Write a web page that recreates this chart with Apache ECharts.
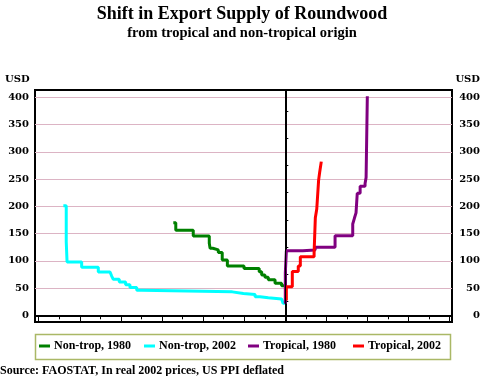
<!DOCTYPE html>
<html>
<head>
<meta charset="utf-8">
<script src="https://cdn.jsdelivr.net/npm/echarts@6/dist/echarts.min.js"></script>
<style>
html, body { margin: 0; padding: 0; background: #fff; }
#chart { width: 495px; height: 376px; }
</style>
</head>
<body>
<div id="chart"></div>
<script>
// supply curves: [cumulative quantity, price USD], non-tropical drawn to the left of 0
var nonTrop1980 = [[-5.45, 170], [-5.33, 156], [-4.48, 145.5], [-3.70, 132], [-3.66, 123], [-3.53, 120],
  [-3.26, 115], [-3.07, 101.5], [-2.82, 90.5], [-2.01, 86], [-1.27, 80], [-1.15, 74], [-0.99, 70],
  [-0.83, 65], [-0.50, 59], [-0.18, 54], [-0.04, 54]];
var nonTrop2002 = [[-10.80, 201], [-10.66, 135], [-10.62, 98], [-9.91, 88], [-9.10, 79.5], [-8.53, 76],
  [-8.45, 72], [-8.37, 66], [-8.08, 61], [-7.77, 56], [-7.56, 51], [-7.23, 46], [-6.99, 43],
  [-2.58, 40], [-2.04, 38], [-1.47, 34], [-1.23, 32], [-0.83, 30], [-0.18, 28], [-0.11, 22], [0, 22]];
var tropical1980 = [[0, 21], [0, 78], [0.05, 118.5], [0.85, 120], [1.45, 125], [2.42, 146], [3.28, 167.5],
  [3.36, 178], [3.44, 188], [3.50, 224], [3.64, 237], [3.88, 242], [3.93, 253], [3.99, 402]];
var tropical2002 = [[0.05, 27], [0.05, 52.5], [0.34, 80.5], [0.63, 90.5], [0.73, 107.5], [1.40, 115],
  [1.46, 179], [1.53, 195], [1.62, 248], [1.67, 262], [1.75, 282]];

var seriesNames = ['Non-trop, 1980', 'Non-trop, 2002', 'Tropical, 1980', 'Tropical, 2002'];
var seriesColors = ['#008000', '#00ffff', '#800080', '#ff0000'];
var yTicks = [0, 50, 100, 150, 200, 250, 300, 350, 400];
var yRightTicks = [25, 75, 125, 175, 225, 275, 325, 375];
var xMajorTicks = [-12, -10, -8, -6, -4, -2, 0, 2, 4, 6, 8];
var xMinorTicks = [-11, -9, -7, -5, -3, -1, 1, 3, 5, 7];

var labelFont = { fontFamily: 'DejaVu Serif', fontWeight: 'bold', fontSize: 10, color: '#000' };
var serif = 'bold {s}px "Liberation Serif"';

var chart = echarts.init(document.getElementById('chart'));

var seriesData = [nonTrop1980, nonTrop2002, tropical1980, tropical2002];
var series = seriesData.map(function (d, i) {
  return {
    name: seriesNames[i],
    type: 'line',
    step: 'end',
    data: d,
    showSymbol: false,
    color: seriesColors[i],
    lineStyle: { width: 3, color: seriesColors[i] },
    z: 3 + i
  };
});
series[0].markLine = {
  silent: true,
  symbol: 'none',
  label: { show: false },
  lineStyle: { color: '#000', width: 1, type: 'solid' },
  data: [{ xAxis: 0 }],
  z: 10
};

var legendLefts = [39, 144, 248, 353];
var legends = seriesNames.map(function (n, i) {
  return {
    data: [n],
    left: legendLefts[i],
    top: 340,
    icon: 'rect',
    itemWidth: 11,
    itemHeight: 3,
    itemGap: 0,
    padding: 0,
    selectedMode: false,
    textStyle: { fontFamily: 'Liberation Serif', fontWeight: 'bold', fontSize: 12, color: '#000', padding: [0, 0, 0, -1] }
  };
});

var option = {
  animation: false,
  grid: { left: 35, right: 43, top: 90, bottom: 54, show: true, borderColor: '#000', borderWidth: 2 },
  xAxis: [{
    type: 'value', min: -12.18, max: 8.11,
    axisLine: { lineStyle: { color: '#000', width: 2 } },
    axisTick: { customValues: xMajorTicks, length: 6, lineStyle: { color: '#000', width: 1 } },
    axisLabel: { show: false },
    splitLine: { show: false }
  }, {
    type: 'value', min: -12.18, max: 8.11, position: 'bottom',
    axisLine: { show: false },
    axisTick: { customValues: xMinorTicks, length: 4, lineStyle: { color: '#000', width: 1 } },
    axisLabel: { show: false },
    splitLine: { show: false }
  }],
  yAxis: [{
    type: 'value', min: -12.3, max: 413.4, position: 'left',
    axisLine: { show: true, lineStyle: { color: '#000', width: 2 } },
    axisTick: { show: false, customValues: yTicks },
    axisLabel: Object.assign({ customValues: yTicks, margin: 6 }, labelFont),
    splitLine: { show: true, lineStyle: { color: '#dcb4c4', width: 1 } }
  }, {
    type: 'value', min: -12.3, max: 413.4, position: 'right',
    axisLine: { show: true, lineStyle: { color: '#000', width: 2 } },
    axisTick: { show: true, customValues: yRightTicks, length: 3, lineStyle: { color: '#000', width: 1 } },
    axisLabel: Object.assign({ customValues: yTicks, margin: 28, align: 'right' }, labelFont),
    splitLine: { show: false }
  }],
  legend: legends,
  graphic: [
    { type: 'text', x: 242, y: 14.5, style: { text: 'Shift in Export Supply of Roundwood', font: serif.replace('{s}', 18), fill: '#000', textAlign: 'center', textVerticalAlign: 'middle' } },
    { type: 'text', x: 242, y: 33.5, style: { text: 'from tropical and non-tropical origin', font: serif.replace('{s}', 14.5), fill: '#000', textAlign: 'center', textVerticalAlign: 'middle' } },
    { type: 'text', x: 5, y: 79, style: { text: 'USD', font: 'bold 10px "DejaVu Serif"', fill: '#000', textVerticalAlign: 'middle' } },
    { type: 'text', x: 480, y: 79, style: { text: 'USD', font: 'bold 10px "DejaVu Serif"', fill: '#000', textAlign: 'right', textVerticalAlign: 'middle' } },
    { type: 'rect', shape: { x: 35.5, y: 334.5, width: 415, height: 25 }, style: { fill: 'none', stroke: '#aab866', lineWidth: 1.5 } },
    { type: 'text', x: 0, y: 371, style: { text: 'Source: FAOSTAT, In real 2002 prices, US PPI deflated', font: serif.replace('{s}', 12), fill: '#000', textVerticalAlign: 'middle' } }
  ],
  series: series
};

chart.setOption(option);
</script>
</body>
</html>
